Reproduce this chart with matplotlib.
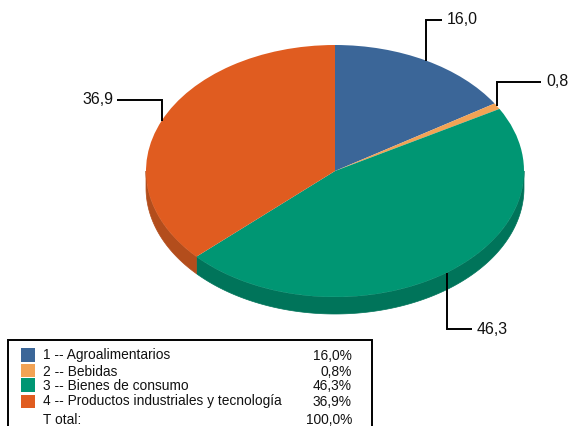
import numpy as np
import matplotlib
matplotlib.use("Agg")
import matplotlib.pyplot as plt
from matplotlib.patches import Rectangle
from matplotlib.transforms import Affine2D

plt.rcParams['font.family'] = ['Liberation Sans', 'DejaVu Sans']

categories = ["1 -- Agroalimentarios", "2 -- Bebidas", "3 -- Bienes de consumo",
              "4 -- Productos industriales y tecnología"]
values = [16.0, 0.8, 46.3, 36.9]
value_labels = ["16,0", "0,8", "46,3", "36,9"]
legend_values = ["16,0%", "0,8%", "46,3%", "36,9%"]
total_label = "T otal:"
total_value = "100,0%"
colors = ["#3b6698", "#f2a355", "#009673", "#e05c20"]
side_colors = ["#2a4a6e", "#b07a40", "#00745a", "#b34d1c"]

W, H = 568, 426
fig = plt.figure(figsize=(W / 100, H / 100), dpi=100)
ax = fig.add_axes([0, 0, 1, 1])
ax.set_xlim(0, W)
ax.set_ylim(H, 0)
ax.axis("off")

cx, cy, rx, ry, depth = 335, 171, 189, 126, 17

# side walls
edges = np.cumsum([0] + values) / 100.0 * 2 * np.pi
for a, b, c in zip(edges[:-1], edges[1:], side_colors):
    lo, hi = max(a, np.pi / 2), min(b, 3 * np.pi / 2)
    if hi <= lo:
        continue
    t = np.linspace(lo, hi, 200)
    x = cx + rx * np.sin(t)
    y = cy - ry * np.cos(t)
    ax.fill(np.r_[x, x[::-1]], np.r_[y, y[::-1] + depth], color=c, lw=0.5, zorder=1)

# top face: pie squashed into an ellipse (y axis is inverted, so flip)
wedges, _ = ax.pie(values, colors=colors, startangle=90, counterclock=False,
                   frame=False, radius=1)
ax.set_xlim(0, W)
ax.set_ylim(H, 0)
ax.set_aspect("auto")
ax.axis("off")
tr = Affine2D().scale(rx, -ry).translate(cx, cy) + ax.transData
for w in wedges:
    w.set_transform(tr)
    w.set_zorder(2)
    w.set_linewidth(0)

# leader lines: elbow anchored at mid-angle of each slice
mids = (edges[:-1] + edges[1:]) / 2
elbows = [(20, 16), (82, 44), (329, 25), (100, -45)]
for m, (ye, dx), lab in zip(mids, elbows, value_labels):
    xa = cx + rx * np.sin(m)
    ya = cy - ry * np.cos(m)
    ax.plot([xa, xa, xa + dx], [ya, ye, ye], color="black", lw=1.4, zorder=3,
            solid_joinstyle="miter", solid_capstyle="butt")
    if dx > 0:
        ax.text(xa + dx + 5, ye, lab, fontsize=11.5, ha="left", va="center", color="#111111")
    else:
        ax.text(xa + dx - 3, ye, lab, fontsize=11.5, ha="right", va="center", color="#111111")

# legend table
ax.add_patch(Rectangle((8, 340), 364, 100, fc="white", ec="black", lw=1.4, zorder=3))
row_y = [355.5, 371.5, 385.5, 401.5]
sw_top = [348, 364, 378, 395]
sw_h = [14, 13, 14, 13]
for cat, lv, c, ty, st, sh in zip(categories, legend_values, colors, row_y, sw_top, sw_h):
    ax.add_patch(Rectangle((21, st), 14, sh, fc=c, ec="none", zorder=4))
    ax.text(43, ty, cat, fontsize=9.9, ha="left", va="center", color="#111111", zorder=4)
    ax.text(352, ty, lv, fontsize=9.9, ha="right", va="center", color="#111111", zorder=4)
ax.text(43, 419.5, total_label, fontsize=9.9, ha="left", va="center", color="#111111", zorder=4)
ax.text(352, 419.5, total_value, fontsize=9.9, ha="right", va="center", color="#111111", zorder=4)

fig.savefig("out.png", dpi=100)
